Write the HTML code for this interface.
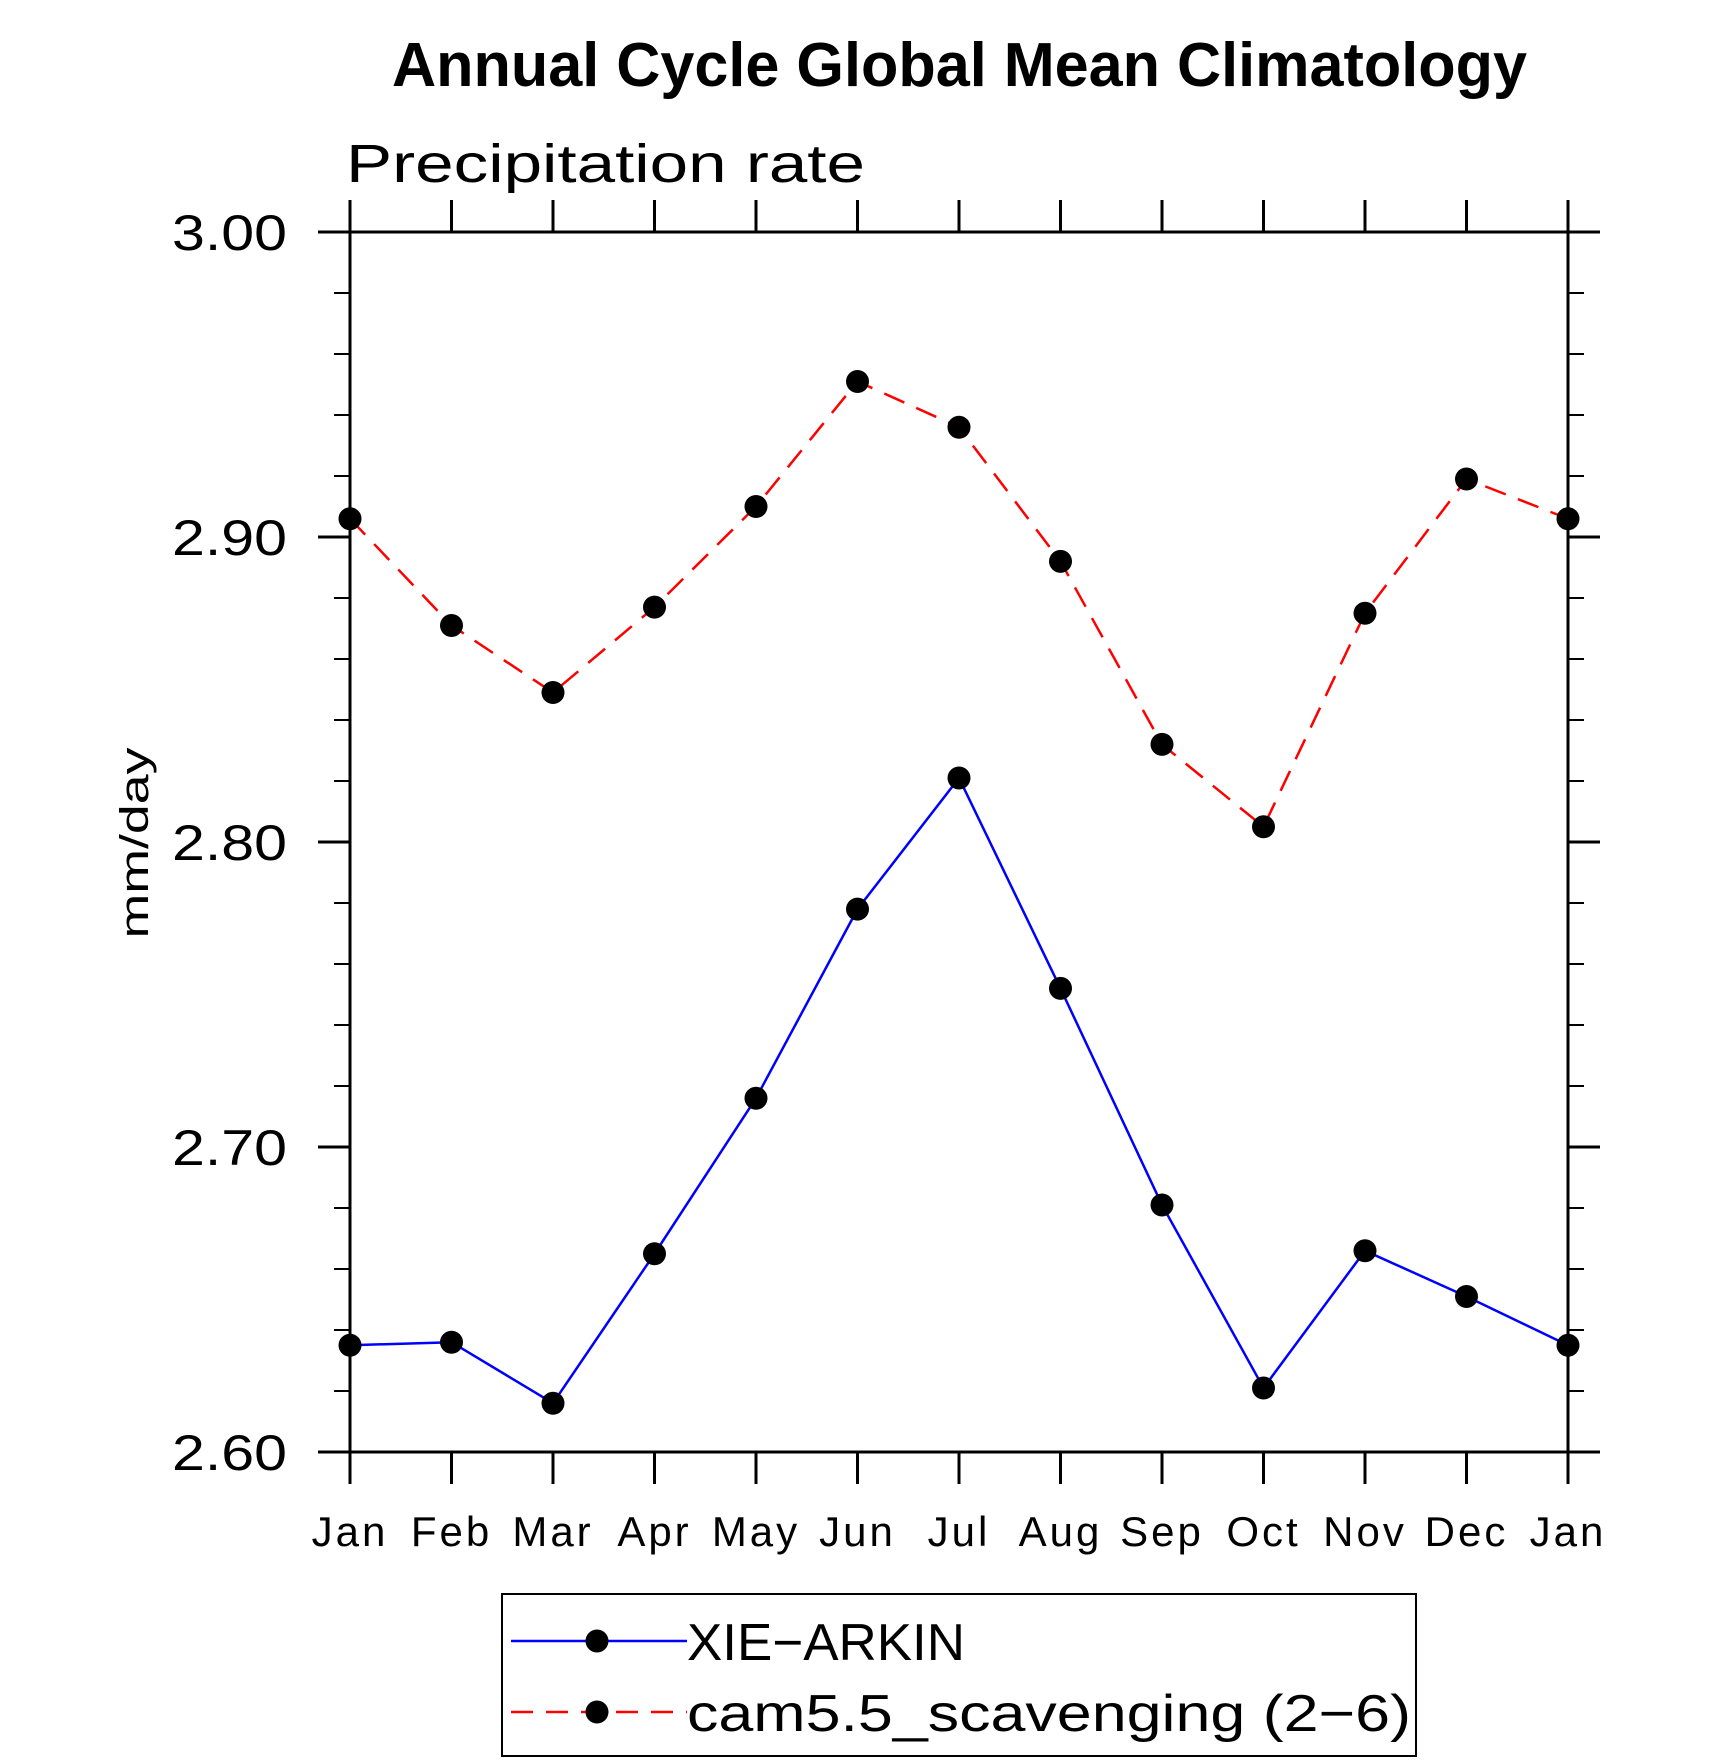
<!DOCTYPE html>
<html><head><meta charset="utf-8"><style>
body{margin:0;background:#fff;}
svg{display:block;font-family:"Liberation Sans",sans-serif;}
</style></head><body>
<svg id="chart" width="1710" height="1762" viewBox="0 0 1710 1762" xmlns="http://www.w3.org/2000/svg">
<text x="392" y="86" font-size="62" font-weight="bold" textLength="1135" lengthAdjust="spacingAndGlyphs">Annual Cycle Global Mean Climatology</text>
<text x="346" y="182" font-size="54" font-weight="300" textLength="519" lengthAdjust="spacingAndGlyphs">Precipitation rate</text>
<text transform="translate(148,843) rotate(-90)" text-anchor="middle" font-size="40" textLength="191" lengthAdjust="spacingAndGlyphs">mm/day</text>
<g id="axes"></g>
<g id="series"></g>
<g id="legend"></g>
</svg>
<script>
const months = ["Jan","Feb","Mar","Apr","May","Jun","Jul","Aug","Sep","Oct","Nov","Dec","Jan"];
const xieArkin = [2.635,2.636,2.616,2.665,2.716,2.778,2.821,2.752,2.681,2.621,2.666,2.651,2.635];
const cam55 = [2.906,2.871,2.849,2.877,2.910,2.951,2.936,2.892,2.832,2.805,2.875,2.919,2.906];
const yTickValues = [2.60,2.70,2.80,2.90,3.00];
const yTickLabels = ["2.60","2.70","2.80","2.90","3.00"];
const yMinorValues = [2.62,2.64,2.66,2.68,2.72,2.74,2.76,2.78,2.82,2.84,2.86,2.88,2.92,2.94,2.96,2.98];

const NS="http://www.w3.org/2000/svg";
const L=350,R=1568,T=232,B=1452,yMin=2.6,yMax=3.0;
function xs(i){return L+(R-L)*i/(months.length-1);}
function ys(v){return B-(v-yMin)/(yMax-yMin)*(B-T);}
function mk(tag,attrs,parent){const e=document.createElementNS(NS,tag);for(const k in attrs)e.setAttribute(k,attrs[k]);parent.appendChild(e);return e;}
const axes=document.getElementById('axes');
const frame=mk('rect',{x:L,y:T,width:R-L,height:B-T,fill:'none',stroke:'#000','stroke-width':3},axes);


months.forEach((m,i)=>{
  const x=xs(i);
  const tb=mk('line',{x1:x,y1:B,x2:x,y2:B+32,stroke:'#000','stroke-width':3},axes);
  
  
  const tt=mk('line',{x1:x,y1:T,x2:x,y2:T-32,stroke:'#000','stroke-width':3},axes);
  
  
  const lb=mk('text',{x:x,y:1546,'text-anchor':'middle','font-size':42,'font-weight':300,'letter-spacing':3},axes);
  lb.textContent=m;
  
  
});
yTickValues.forEach((v,i)=>{
  const y=ys(v);
  const a=mk('line',{x1:L-32,y1:y,x2:L,y2:y,stroke:'#000','stroke-width':3},axes);
  
  
  const b=mk('line',{x1:R,y1:y,x2:R+32,y2:y,stroke:'#000','stroke-width':3},axes);
  
  
  const t=mk('text',{x:172,y:y+18,'font-size':50,textLength:115,lengthAdjust:'spacingAndGlyphs'},axes);
  t.textContent=yTickLabels[i];
  
  
});
yMinorValues.forEach(v=>{
  const y=ys(v);
  const a=mk('line',{x1:L-16,y1:y,x2:L,y2:y,stroke:'#000','stroke-width':2},axes);
  
  
  const b=mk('line',{x1:R,y1:y,x2:R+16,y2:y,stroke:'#000','stroke-width':2},axes);
  
  
});
const series=document.getElementById('series');
function drawSeries(vals,color,dash,name){
  const pts=vals.map((v,i)=>xs(i)+','+ys(v)).join(' ');
  const pl=mk('polyline',{points:pts,fill:'none',stroke:color,'stroke-width':2.5,'stroke-dasharray':dash},series);
  
  
  vals.forEach((v,i)=>{
    const c=mk('circle',{cx:xs(i),cy:ys(v),r:11.5,fill:'#000'},series);
    
    
  });
}
drawSeries(cam55,'#ff0000','22 13','cam55-scavenging');
drawSeries(xieArkin,'#0000ff','none','xie-arkin');
const lg=document.getElementById('legend');
const box=mk('rect',{x:502,y:1594,width:914,height:162,fill:'none',stroke:'#000','stroke-width':2},lg);


[["XIE\u2212ARKIN",'#0000ff','none',1641,'legend-entry-xie-arkin',278],["cam5.5_scavenging (2\u22126)",'#ff0000','22 13',1712,'legend-entry-cam55',724]].forEach(e=>{
  const g=mk('g',{},lg);
  
  
  mk('line',{x1:511,y1:e[3],x2:687,y2:e[3],stroke:e[1],'stroke-width':2.5,'stroke-dasharray':e[2]},g);
  mk('circle',{cx:597,cy:e[3],r:11.5,fill:'#000'},g);
  const t=mk('text',{x:687,y:e[3]+19,'font-size':52,textLength:e[5],lengthAdjust:'spacingAndGlyphs'},g);
  t.textContent=e[0];
});
</script>
</body></html>
